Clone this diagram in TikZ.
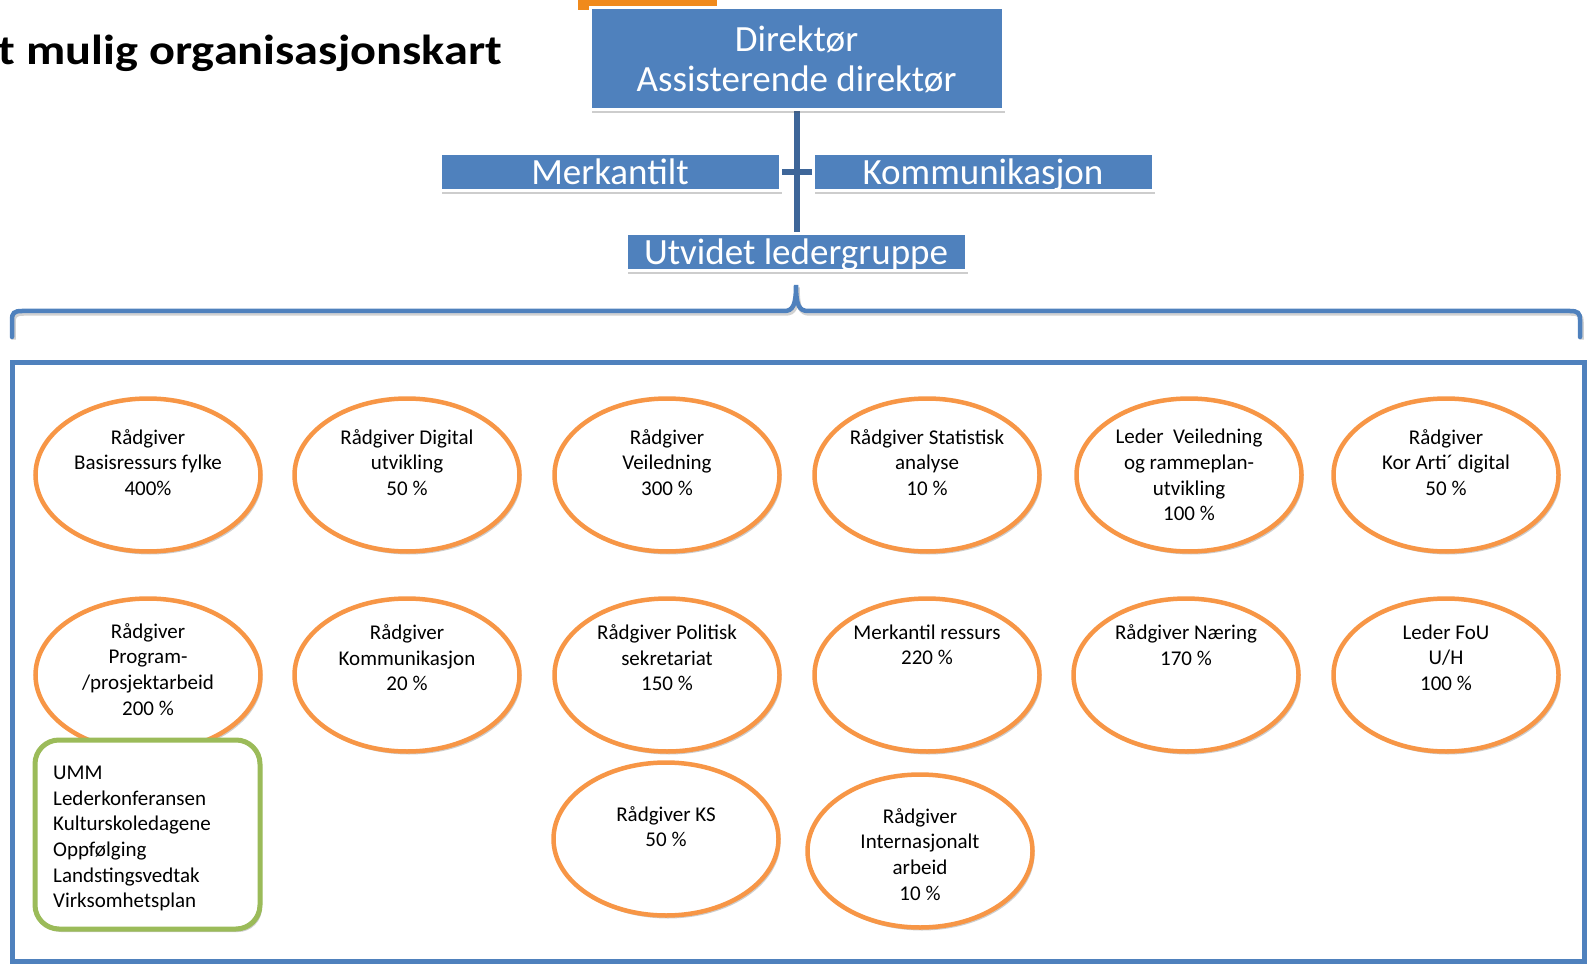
\documentclass[tikz,border=0pt]{standalone}
\usepackage{fontspec}
\setmainfont{Carlito}
\usetikzlibrary{shapes.geometric,shadows}
\pgfdeclarelayer{back}
\pgfsetlayers{back,main}
\definecolor{boxblue}{HTML}{4F81BD}
\definecolor{linkblue}{HTML}{3E6699}
\definecolor{ellorange}{HTML}{F79646}
\definecolor{topor}{HTML}{F08A1C}
\definecolor{grn}{HTML}{9BBB59}
\tikzset{
  shad/.style={drop shadow={shadow xshift=2pt,shadow yshift=-3pt,opacity=0.28,fill=black!70}},
  bluebox/.style={draw=white,line width=3pt,fill=boxblue,text=white,shad,inner sep=0pt,align=center},
  onebox/.style={bluebox,minimum width=340pt,minimum height=37pt,font=\fontsize{37}{40}\selectfont,text height=24pt,text depth=0pt},
  ell/.style={ellipse,draw=ellorange,line width=4.5pt,fill=white,minimum width=225pt,minimum height=153pt,inner sep=0pt,shad},
  etxt/.style={align=center,font=\fontsize{21}{25.7}\selectfont,anchor=north,inner sep=0pt,execute at begin node=\strut},
  conn/.style={draw=linkblue,line width=6pt},
  brk/.style={draw=boxblue,line width=4.5pt,line cap=round,
    preaction={draw=black,opacity=0.18,line width=4.5pt,transform canvas={shift={(1.5pt,-2.5pt)}}}},
}
\begin{document}
\begin{tikzpicture}[x=1pt,y=-1pt]
\useasboundingbox (0,0) rectangle (1589,965);
\clip (0,0) rectangle (1589,965);
% title
\node[anchor=base east,inner sep=0pt,font=\fontsize{42}{48}\selectfont\bfseries] (title) at (502,65) {\scalebox{1.15}[1]{Et mulig organisasjonskart}};
% orange bar at top
\fill[topor] (578,-10) rectangle (717,10);
% group frame
\node[draw=boxblue,line width=5pt,minimum width=1572pt,minimum height=599pt,inner sep=0pt] (grp) at (798.5,662) {};
% boxes
\node[bluebox,minimum width=413pt,minimum height=102pt,font=\fontsize{37}{40}\selectfont] (dir) at (796.5,59) {Direktør\\Assisterende direktør};
\node[onebox] (merk) at (610,172.5) {Merkantilt};
\node[onebox] (komm) at (983,172.5) {Kommunikasjon};
\node[onebox] (utv) at (796,252.5) {Utvidet ledergruppe};
% connectors behind boxes
\begin{pgfonlayer}{back}
\draw[conn] (dir.south) -- (dir.south |- utv.north);
\draw[conn] (merk.east) -- (komm.west);
\end{pgfonlayer}
% bracket
\coordinate (peak) at (796,285);
\draw[brk] (12,337) -- (12,320) .. controls (12,313) and (14,311) .. (22,311) -- (784,311)
  .. controls (793,311) and (796,305) .. (peak)
  .. controls (796,305) and (799,311) .. (808,311) -- (1570,311)
  .. controls (1578,311) and (1580,313) .. (1580,320) -- (1580,337);
% row 1
\node[ell] (e1) at (148,475) {};
\node[ell] (e2) at (407,475) {};
\node[ell] (e3) at (667,475) {};
\node[ell] (e4) at (927,475) {};
\node[ell] (e5) at (1189,475) {};
\node[ell] (e6) at (1446,475) {};
\node[etxt] (t1) at (148,429) {Rådgiver\\Basisressurs fylke\\400\%};
\node[etxt] (t2) at (407,429) {Rådgiver Digital\\utvikling\\50 \%};
\node[etxt] (t3) at (667,429) {Rådgiver\\Veiledning\\300 \%};
\node[etxt] (t4) at (927,429) {Rådgiver Statistisk\\analyse\\10 \%};
\node[etxt] (t5) at (1189,429) {Leder\ \ Veiledning\\og rammeplan-\\utvikling\\100 \%};
\node[etxt] (t6) at (1446,429) {Rådgiver\\Kor Arti´ digital\\50 \%};
% row 2
\node[ell] (f1) at (148,675) {};
\node[ell] (f2) at (407,675) {};
\node[ell] (f3) at (667,675) {};
\node[ell] (f4) at (927,675) {};
\node[ell] (f5) at (1186,675) {};
\node[ell] (f6) at (1446,675) {};
\node[etxt] (u1) at (148,623) {Rådgiver\\Program-\\/prosjektarbeid\\200 \%};
\node[etxt] (u2) at (407,624.5) {Rådgiver\\Kommunikasjon\\20 \%};
\node[etxt] (u3) at (667,624.5) {Rådgiver Politisk\\sekretariat\\150 \%};
\node[etxt] (u4) at (927,624.5) {Merkantil ressurs\\220 \%};
\node[etxt] (u5) at (1186,624.5) {Rådgiver Næring\\170 \%};
\node[etxt] (u6) at (1446,624.5) {Leder FoU\\U/H\\100 \%};
% row 3
\node[ell] (g1) at (666,839) {};
\node[ell] (g2) at (920,851) {};
\node[etxt] (v1) at (666,806) {Rådgiver KS\\50 \%};
\node[etxt] (v2) at (920,808) {Rådgiver\\Internasjonalt\\arbeid\\10 \%};
% green box
\node[draw=grn,line width=5pt,fill=white,rounded corners=24pt,minimum width=225pt,minimum height=189pt,inner sep=0pt,shad] (gbox) at (147.5,834.5) {};
\node[anchor=north west,inner sep=0pt,align=left,font=\fontsize{21}{25.6}\selectfont,execute at begin node=\strut] (gtxt) at (53,766) {UMM\\Lederkonferansen\\Kulturskoledagene\\Oppfølging\\Landstingsvedtak\\Virksomhetsplan};
\end{tikzpicture}
\end{document}
